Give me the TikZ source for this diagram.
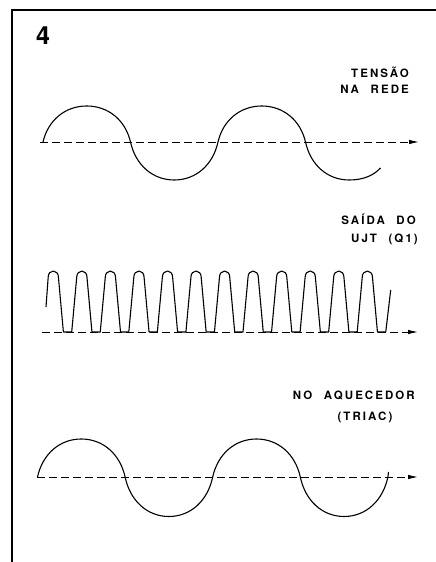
\documentclass[tikz,border=0pt]{standalone}
\usepackage{fontspec}
\usepackage{tikz}
\usetikzlibrary{arrows.meta}
\newfontfamily\stencilfont{TeX Gyre Heros}[LetterSpace=18,WordSpace=2.2]

\begin{document}
\begin{tikzpicture}[x=1pt,y=1pt,
    wave/.style={line width=1.1pt,line join=round},
    axis/.style={line width=0.9pt,dash pattern=on 8pt off 4pt,-{Latex[length=10pt,width=4.5pt]}},
    lbl/.style={font=\stencilfont\bfseries\fontsize{11.5}{13}\selectfont,inner sep=0pt}]
  \useasboundingbox (0,0) rectangle (436,562);
  % frame
  \draw[line width=1.7pt] (436,552) -- (12,552) -- (12,0);
  \node[font=\stencilfont\bfseries\fontsize{25}{27}\selectfont,inner sep=0pt] (fignum) at (43,526) {4};
  % mains voltage
  \coordinate (mainsA) at (40,420);
  \coordinate (mainsB) at (419,420);
  \draw[axis] (mainsA) -- (mainsB);
  \draw[wave] (43,420)
    \foreach \i/\h in {0/36,1/-38,2/36} {
      .. controls ({43+87.5*\i+5},{420+0.6*\h}) and ({43+87.5*\i+22},{420+\h}) .. ({43+87.5*\i+43.75},{420+\h})
      .. controls ({43+87.5*\i+65.5},{420+\h}) and ({43+87.5*\i+82.5},{420+0.6*\h}) .. ({43+87.5*(\i+1)},420)
    }
    .. controls (310.5,397) and (327.5,382) .. (349.25,382)
    .. controls (364,382) and (374,387) .. (380.5,394);
  \node[lbl,anchor=east] (tensao) at (409,490) {TENSÃO};
  \node[lbl,anchor=east] (rede) at (409,473) {NA REDE};
  % UJT pulses
  \coordinate (ujtA) at (42,230);
  \coordinate (ujtB) at (418,230);
  \draw[axis] (ujtA) -- (ujtB);
  \draw[wave] (46,255)
    \foreach \k in {0,...,11} {
      -- ({48.2+28.55*\k},285) arc[start angle=180,end angle=0,x radius=5.1,y radius=6]
      -- ({63.4+28.55*\k},230) -- ({71.7+28.55*\k},230)
    } -- (390.7,272);
  \node[lbl,anchor=east] (saida) at (416,342.5) {SAÍDA DO};
  \node[lbl,anchor=east] (ujt) at (418,323) {UJT (Q1)};
  % heater voltage
  \coordinate (heatA) at (37,85);
  \coordinate (heatB) at (418,85);
  \draw[axis] (heatA) -- (heatB);
  \draw[wave] (37.5,85)
    \foreach \i/\h in {0/38,1/-39.5,2/38,3/-39.5} {
      .. controls ({37.5+87.6*\i+5},{85+0.6*\h}) and ({37.5+87.6*\i+22},{85+\h}) .. ({37.5+87.6*\i+43.8},{85+\h})
      .. controls ({37.5+87.6*\i+65.6},{85+\h}) and ({37.5+87.6*\i+82.6},{85+0.6*\h}) .. ({37.5+87.6*(\i+1)},85)
    } -- (388.5,90);
  \node[lbl,anchor=east] (aquec) at (415,167) {NO AQUECEDOR};
  \node[lbl] (triac) at (365,145) {(TRIAC)};
\end{tikzpicture}
\end{document}
